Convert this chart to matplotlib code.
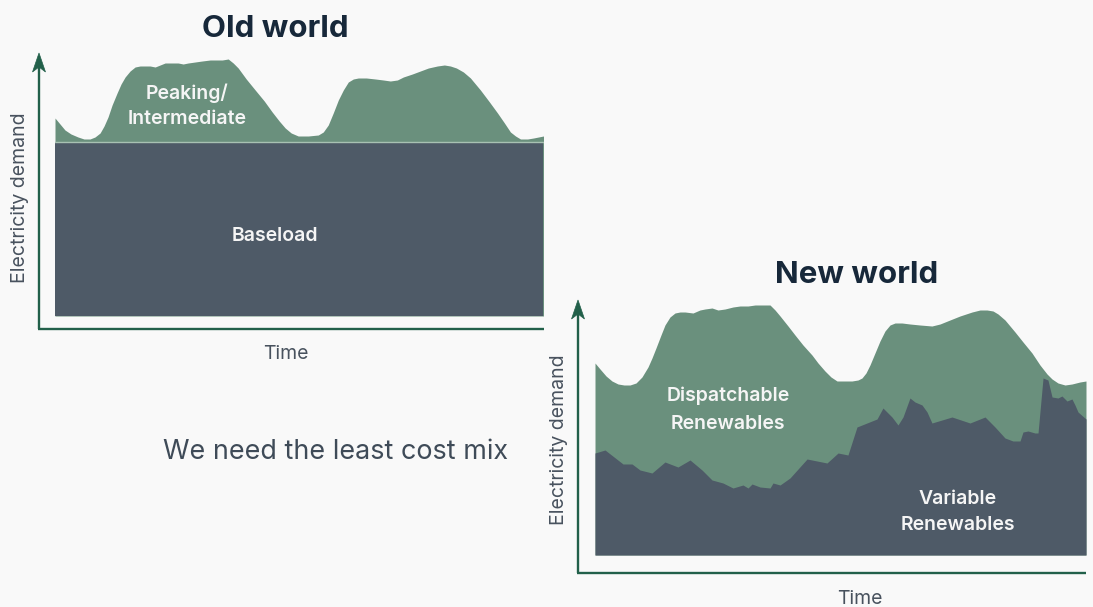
import matplotlib
matplotlib.use("Agg")
import matplotlib.pyplot as plt
from matplotlib.patches import Polygon
from matplotlib.lines import Line2D

# ---------------- data ----------------
# Old world: demand profile over two days (hours) and flat baseload
old_hours = [0.00, 0.49, 0.98, 1.57, 2.26, 2.85, 3.44, 3.93, 4.43, 4.82, 5.21, 5.61,
             6.10, 6.49, 6.89, 7.38, 7.87, 8.36, 8.85, 9.34, 9.84, 10.33, 10.82, 11.51,
             12.10, 12.59, 13.08, 13.77, 14.46, 15.25, 15.74, 16.43, 17.02, 17.51, 18.00,
             18.79, 19.67, 20.56, 21.34, 22.03, 22.62, 23.21, 23.90, 24.89, 25.87, 26.36,
             26.85, 27.34, 27.84, 28.33, 28.82, 29.31, 29.80, 30.59, 31.48, 32.26, 32.95,
             33.64, 34.23, 35.11, 35.90, 36.69, 37.57, 38.26, 38.85, 39.44, 40.13, 40.82,
             41.80, 42.69, 43.48, 44.16, 44.75, 45.25, 45.74, 46.43, 47.02, 47.51, 48.00]
old_demand = [198, 192, 186, 182, 179, 177, 177, 179, 183, 190, 199, 211,
              223, 232, 239, 245, 249, 250, 250, 250, 249, 251, 253, 253,
              253, 252, 253, 254, 255, 256, 256, 256, 257, 253, 248,
              237, 226, 215, 204, 195, 188, 183, 180, 180, 181, 184,
              191, 203, 216, 226, 234, 237, 238, 238, 237, 236, 235,
              236, 239, 242, 245, 248, 250, 251, 250, 248, 244, 238,
              226, 214, 203, 193, 184, 180, 177, 177, 178, 179, 180]
old_baseload = 174

# New world: same two-day demand, split into variable and dispatchable renewables
new_hours = [0.00, 0.49, 1.08, 1.66, 2.25, 2.84, 3.42, 4.01, 4.59, 5.18, 5.57, 5.96,
             6.45, 6.84, 7.33, 7.82, 8.31, 8.80, 9.58, 10.26, 10.75, 11.44, 12.02, 12.71,
             13.49, 14.18, 14.96, 15.65, 16.42, 17.11, 17.60, 18.09, 18.87, 19.55, 20.33,
             21.21, 21.80, 22.48, 23.07, 23.66, 24.44, 25.12, 25.71, 26.10, 26.49, 26.88,
             27.37, 27.86, 28.35, 28.84, 29.33, 30.01, 30.79, 31.77, 32.94, 33.73, 34.70,
             35.68, 36.86, 37.64, 38.32, 38.91, 39.40, 40.08, 41.06, 41.84, 42.72, 43.50,
             44.19, 44.68, 45.26, 45.95, 46.63, 47.41, 48.00]
new_demand = [192, 186, 179, 174, 171, 170, 170, 172, 178, 188, 197, 207,
              220, 230, 238, 242, 243, 243, 242, 245, 246, 247, 245, 246,
              248, 249, 249, 250, 250, 250, 245, 239, 229, 220, 210,
              200, 192, 184, 178, 174, 174, 174, 175, 177, 182, 190,
              202, 214, 224, 230, 232, 232, 231, 230, 229, 231, 235,
              239, 243, 245, 245, 244, 241, 235, 223, 213, 202, 190,
              181, 176, 172, 170, 171, 173, 174]

var_hours = [0.00, 0.98, 2.74, 3.62, 4.40, 5.57, 6.84, 8.11, 9.29, 10.46, 11.44, 12.51,
             13.49, 14.47, 14.96, 15.35, 16.13, 17.11, 17.40, 18.09, 19.06, 20.73, 22.68,
             23.76, 24.73, 25.61, 27.57, 28.15, 29.03, 29.62, 30.11, 30.79, 31.28, 31.97,
             32.46, 32.94, 34.90, 36.66, 38.13, 39.10, 40.08, 40.86, 41.55, 41.84, 42.33,
             43.01, 43.31, 43.80, 44.28, 44.68, 45.26, 45.65, 46.14, 46.63, 46.92, 47.22,
             48.00]
var_supply = [102, 105, 91, 91, 85, 82, 93, 88, 95, 85, 75, 72,
              67, 70, 67, 71, 68, 67, 72, 70, 77, 96, 92,
              102, 100, 128, 136, 147, 138, 130, 138, 157, 153, 150,
              143, 132, 138, 132, 138, 128, 117, 114, 114, 123, 124,
              122, 122, 177, 175, 158, 157, 159, 154, 156, 150, 143,
              136]

# ---------------- style ----------------
W, H = 1093, 607
BG = "#f9f9f9"
GREEN = "#6a907d"
SLATE = "#4e5a67"
AXIS_GREEN = "#22604a"
TITLE_C = "#17283a"
LABEL_C = "#48525e"
INNER_C = "#f5f5f5"
LABEL_SIZE = 14
INNER_SIZE = 14
TEXT_DY = 2  # nudge text centres down by a couple of pixels

plt.rcParams["font.family"] = ["Inter", "DejaVu Sans"]

fig = plt.figure(figsize=(W / 100, H / 100), dpi=100, facecolor=BG)


def fx(px):
    return px / W


def fy(py):
    return 1 - py / H


def make_axes(left, right, bottom, top_units=270):
    ax = fig.add_axes([fx(left), fy(bottom), (right - left) / W, top_units / H])
    ax.set_xlim(0, 48)
    ax.set_ylim(0, top_units)
    ax.set_facecolor("none")
    ax.axis("off")
    return ax


def axis_arrows(x0, y_axis, y_tip, x_end):
    # vertical axis line with a stealth-style head, plus the time axis
    fig.add_artist(Line2D([fx(x0), fx(x0)], [fy(y_axis), fy(y_tip + 10)],
                          transform=fig.transFigure, color=AXIS_GREEN, lw=1.7,
                          solid_capstyle="butt"))
    fig.add_artist(Line2D([fx(x0 - 0.8), fx(x_end)], [fy(y_axis), fy(y_axis)],
                          transform=fig.transFigure, color=AXIS_GREEN, lw=1.7,
                          solid_capstyle="butt"))
    head = [(fx(x0), fy(y_tip)), (fx(x0 - 6.5), fy(y_tip + 19)),
            (fx(x0), fy(y_tip + 14)), (fx(x0 + 6.5), fy(y_tip + 19))]
    fig.add_artist(Polygon(head, closed=True, transform=fig.transFigure,
                           facecolor=AXIS_GREEN, edgecolor=AXIS_GREEN, lw=0.5))


def text(x, y, s, **kw):
    fig.text(fx(x), fy(y + TEXT_DY), s, ha="center", va="center", **kw)


def inner(x, y, s):
    text(x, y, s, fontsize=INNER_SIZE, fontweight="semibold", color=INNER_C)


# ---------------- Old world ----------------
ax1 = make_axes(55, 543.5, 316)
ax1.fill_between(old_hours, 0, old_demand, color=GREEN, lw=0)
ax1.fill_between([0, 48], 0, old_baseload, color=SLATE, lw=0)
ax1.plot([0, 48], [old_baseload, old_baseload], color="#a8c1b3", lw=1.0)
axis_arrows(39, 328.5, 53, 543.5)

text(275, 27, "Old world", fontsize=22.5, fontweight="bold", color=TITLE_C)
fig.text(fx(20), fy(198), "Electricity demand", ha="center", va="center",
         rotation=90, fontsize=LABEL_SIZE, color=LABEL_C)
text(286, 352, "Time", fontsize=LABEL_SIZE, color=LABEL_C)
inner(187, 91, "Peaking/")
inner(187, 117, "Intermediate")
inner(275, 234, "Baseload")

# ---------------- New world ----------------
ax2 = make_axes(595, 1086, 555)
ax2.fill_between(new_hours, 0, new_demand, color=GREEN, lw=0)
ax2.fill_between(var_hours, 0, var_supply, color=SLATE, lw=0)
axis_arrows(578, 573, 300, 1086)

text(857, 273, "New world", fontsize=22.5, fontweight="bold", color=TITLE_C)
fig.text(fx(559), fy(440), "Electricity demand", ha="center", va="center",
         rotation=90, fontsize=LABEL_SIZE, color=LABEL_C)
text(860, 597, "Time", fontsize=LABEL_SIZE, color=LABEL_C)
inner(728, 394, "Dispatchable")
inner(728, 422, "Renewables")
inner(958, 497, "Variable")
inner(958, 523, "Renewables")

# ---------------- message ----------------
text(336, 450, "We need the least cost mix", fontsize=19.4, color="#3f4b58")

fig.savefig("out.png", dpi=100, facecolor=BG)
